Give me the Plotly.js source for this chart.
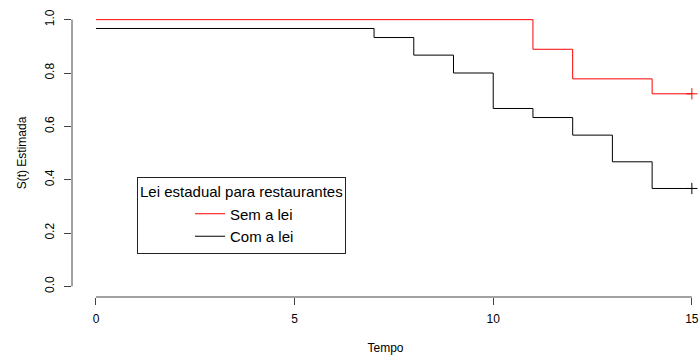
<!DOCTYPE html>
<html>
<head>
<meta charset="utf-8">
<script src="https://cdn.plot.ly/plotly-3.0.1.min.js"></script>
<style>html,body{margin:0;padding:0;background:#fff;overflow:hidden}</style>
</head>
<body>
<div id="chart" style="width:699px;height:358px"></div>
<script>
// Kaplan-Meier estimates
const semLeiTime = [0, 11, 12, 14, 15];
const semLeiSurv = [1.0, 0.889, 0.778, 0.722, 0.722];
const comLeiTime = [0, 7, 8, 9, 10, 11, 12, 13, 14, 15];
const comLeiSurv = [0.967, 0.933, 0.867, 0.8, 0.667, 0.633, 0.567, 0.467, 0.367, 0.367];
const censorTime = [15];
const semLeiCensor = [0.722];
const comLeiCensor = [0.367];
const xTicks = [0, 5, 10, 15];
const yTicks = [0, 0.2, 0.4, 0.6, 0.8, 1.0];
const legendTitle = "Lei estadual para restaurantes";
const names = ["Sem a lei", "Com a lei"];

const FONT = "Liberation Sans, Arial, sans-serif";
const AX = "#444";

const traces = [
  {x: semLeiTime, y: semLeiSurv, type: "scatter", mode: "lines", line: {shape: "hv", color: "#ff0000", width: 1}, name: names[0], hoverinfo: "skip"},
  {x: comLeiTime, y: comLeiSurv, type: "scatter", mode: "lines", line: {shape: "hv", color: "#000000", width: 1}, name: names[1], hoverinfo: "skip"},
  {x: censorTime, y: semLeiCensor, type: "scatter", mode: "markers", marker: {symbol: "cross-thin", size: 8, line: {color: "#ff0000", width: 1}}, showlegend: false, cliponaxis: false, hoverinfo: "skip"},
  {x: censorTime, y: comLeiCensor, type: "scatter", mode: "markers", marker: {symbol: "cross-thin", size: 8, line: {color: "#000000", width: 1}}, showlegend: false, cliponaxis: false, hoverinfo: "skip"}
];

const layout = {
  width: 699, height: 358,
  margin: {l: 72, r: 0, t: 9, b: 61},
  paper_bgcolor: "#fff", plot_bgcolor: "#fff",
  font: {family: FONT, color: "#000"},
  showlegend: true,
  xaxis: {
    range: [-0.604, 15.18], tickvals: xTicks, ticktext: xTicks.map(String),
    ticks: "outside", ticklen: 7, tickcolor: AX, tickwidth: 1,
    showline: false, showgrid: false, zeroline: false,
    tickfont: {size: 12, family: FONT}, ticklabelstandoff: 4,
    title: {text: "Tempo", font: {size: 12, family: FONT}, standoff: 18},
    fixedrange: true
  },
  yaxis: {
    range: [-0.04, 1.04], tickvals: yTicks, ticktext: yTicks.map(v => v.toFixed(1)),
    ticks: "outside", ticklen: 7, tickcolor: AX, tickwidth: 1, tickangle: -90,
    showline: false, showgrid: false, zeroline: false,
    tickfont: {size: 12, family: FONT}, ticklabelstandoff: 5,
    title: {text: "S(t) Estimada", font: {size: 12, family: FONT}, standoff: 14},
    fixedrange: true
  },
  shapes: [
    {type: "line", xref: "x", yref: "paper", x0: xTicks[0], x1: xTicks[xTicks.length-1], y0: 0, y1: 0, line: {color: AX, width: 1}},
    {type: "line", xref: "paper", yref: "y", x0: 0, x1: 0, y0: yTicks[0], y1: yTicks[yTicks.length-1], line: {color: AX, width: 1}}
  ],
  legend: {
    x: 0.1037, y: 0.4167, xanchor: "left", yanchor: "top",
    bordercolor: "#222", borderwidth: 1, bgcolor: "#fff",
    font: {size: 15, family: FONT},
    title: {text: legendTitle, side: "top", font: {size: 15, family: FONT}},
    indentation: 52, traceorder: "normal"
  }
};

Plotly.newPlot("chart", traces, layout, {displayModeBar: false, staticPlot: true});
</script>
</body>
</html>
